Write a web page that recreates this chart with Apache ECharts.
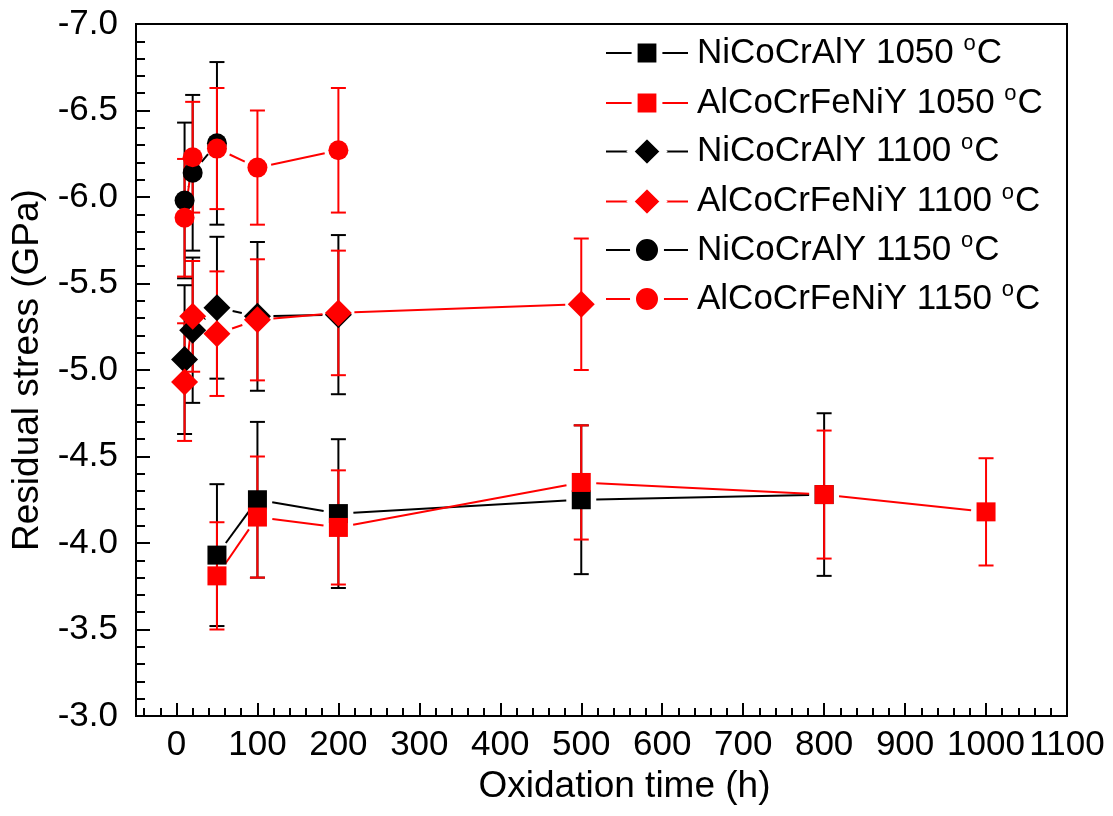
<!DOCTYPE html>
<html>
<head>
<meta charset="utf-8">
<script src="https://cdn.jsdelivr.net/npm/echarts@6/dist/echarts.min.js"></script>
<style>
html,body{margin:0;padding:0;background:#ffffff;}
#chart{width:1113px;height:816px;}
</style>
</head>
<body>
<div id="chart"></div>
<script>
// ---------------- data ----------------
const xTickLabels = [0,100,200,300,400,500,600,700,800,900,1000,1100];
const xMinorTicks = [-40,-20,20,40,60,80,120,140,160,180,220,240,260,280,320,340,360,380,420,440,460,480,520,540,560,580,620,640,660,680,720,740,760,780,820,840,860,880,920,940,960,980,1020,1040,1060,1080];

const nameNi1050 = 'NiCoCrAlY 1050 °C';
const tNi1050 = [50,100,200,500,800];
const vNi1050 = [-3.93,-4.25,-4.17,-4.25,-4.28];
const eNi1050 = [0.41,0.45,0.43,0.43,0.47];

const nameAl1050 = 'AlCoCrFeNiY 1050 °C';
const tAl1050 = [50,100,200,500,800,1000];
const vAl1050 = [-3.81,-4.15,-4.09,-4.35,-4.28,-4.18];
const eAl1050 = [0.31,0.35,0.33,0.33,0.37,0.31];

const nameNi1100 = 'NiCoCrAlY 1100 °C';
const tNi1100 = [10,20,50,100,200];
const vNi1100 = [-5.06,-5.23,-5.36,-5.31,-5.32];
const eNi1100 = [0.43,0.42,0.41,0.43,0.46];

const nameAl1100 = 'AlCoCrFeNiY 1100 °C';
const tAl1100 = [10,20,50,100,200,500];
const vAl1100 = [-4.93,-5.31,-5.21,-5.29,-5.33,-5.38];
const eAl1100 = [0.34,0.32,0.36,0.35,0.36,0.38];

const nameNi1150 = 'NiCoCrAlY 1150 °C';
const tNi1150 = [10,20,50];
const vNi1150 = [-5.98,-6.14,-6.31];
const eNi1150 = [0.45,0.45,0.47];

const nameAl1150 = 'AlCoCrFeNiY 1150 °C';
const tAl1150 = [10,20,50,100,200];
const vAl1150 = [-5.88,-6.23,-6.28,-6.17,-6.27];
const eAl1150 = [0.34,0.32,0.35,0.33,0.36];

// ---------------- styling ----------------
const BLACK = '#000000';
const RED = '#ff0000';
const FONT = 'Liberation Sans, Arial, sans-serif';
const TICK_FS = 35;
const NAME_FS = 37;
const LEG_FS = 35;

const sets = [
  {name:nameNi1050, t:tNi1050, v:vNi1050, e:eNi1050, color:BLACK, symbol:'rect',    size:19, gap:15, legH:31},
  {name:nameAl1050, t:tAl1050, v:vAl1050, e:eAl1050, color:RED,   symbol:'rect',    size:19, gap:15, legH:31},
  {name:nameNi1100, t:tNi1100, v:vNi1100, e:eNi1100, color:BLACK, symbol:'diamond', size:27, gap:16, legH:41},
  {name:nameAl1100, t:tAl1100, v:vAl1100, e:eAl1100, color:RED,   symbol:'diamond', size:27, gap:16, legH:41},
  {name:nameNi1150, t:tNi1150, v:vNi1150, e:eNi1150, color:BLACK, symbol:'circle',  size:20, gap:14, legH:35},
  {name:nameAl1150, t:tAl1150, v:vAl1150, e:eAl1150, color:RED,   symbol:'circle',  size:20, gap:14, legH:35}
];

function errRender(color) {
  return function (params, api) {
    const x = api.value(0), y = api.value(1), e = api.value(2);
    const p1 = api.coord([x, y - e]);
    const p2 = api.coord([x, y + e]);
    const hw = 7.5;
    const st = {stroke: color, lineWidth: 2};
    return {
      type: 'group',
      children: [
        {type:'line', shape:{x1:p1[0], y1:p1[1], x2:p2[0], y2:p2[1]}, style:st},
        {type:'line', shape:{x1:p1[0]-hw, y1:p1[1], x2:p1[0]+hw, y2:p1[1]}, style:st},
        {type:'line', shape:{x1:p2[0]-hw, y1:p2[1], x2:p2[0]+hw, y2:p2[1]}, style:st}
      ]
    };
  };
}

// connecting segment between two consecutive points, trimmed near the markers (Origin-style gap)
function segRender(color, gap) {
  return function (params, api) {
    const a = api.coord([api.value(0), api.value(1)]);
    const b = api.coord([api.value(2), api.value(3)]);
    const dx = b[0] - a[0], dy = b[1] - a[1];
    const len = Math.sqrt(dx * dx + dy * dy);
    if (len <= 2 * gap) return null;
    const ux = dx / len, uy = dy / len;
    return {
      type: 'line',
      shape: {x1: a[0] + ux * gap, y1: a[1] + uy * gap, x2: b[0] - ux * gap, y2: b[1] - uy * gap},
      style: {stroke: color, lineWidth: 2}
    };
  };
}

const series = [];
sets.forEach(function (s) {
  series.push({
    type: 'custom',
    name: s.name + ' error',
    xAxisIndex: 0, yAxisIndex: 0,
    renderItem: errRender(s.color),
    encode: {x: 0, y: 1},
    data: s.t.map(function (t, i) { return [t, s.v[i], s.e[i]]; }),
    silent: true
  });
  series.push({
    type: 'custom',
    name: s.name + ' line',
    xAxisIndex: 0, yAxisIndex: 0,
    renderItem: segRender(s.color, s.gap),
    encode: {x: [0, 2], y: [1, 3]},
    data: s.t.slice(0, -1).map(function (t, i) { return [t, s.v[i], s.t[i + 1], s.v[i + 1]]; }),
    silent: true
  });
  series.push({
    type: 'line',
    name: s.name,
    xAxisIndex: 0, yAxisIndex: 0,
    data: s.t.map(function (t, i) { return [t, s.v[i]]; }),
    symbol: s.symbol,
    symbolSize: s.size,
    showAllSymbol: true,
    itemStyle: {color: s.color},
    lineStyle: {color: s.color, width: 0, opacity: 0},
    emphasis: {disabled: true}
  });
});

const legendCenters = [53, 103, 152, 202, 250, 299];
const LEG_TEXT_H = 40;
const legends = sets.map(function (s, i) {
  const h = Math.max(s.legH, LEG_TEXT_H);
  return {
    data: [s.name],
    left: 605,
    top: legendCenters[i] - h / 2,
    padding: 0,
    itemWidth: 82,
    itemHeight: s.legH,
    selectedMode: false,
    itemStyle: {borderColor: '#ffffff', borderWidth: 6},
    lineStyle: {color: s.color, width: 2, opacity: 1},
    formatter: function (name) { return '{t|' + name.replace(' °C', ' ') + '}{s|o}{t|C}'; },
    textStyle: {
      fontSize: LEG_FS, fontFamily: FONT, color: '#000', lineHeight: LEG_TEXT_H, padding: [0,0,0,4],
      rich: {
        t: {fontSize: LEG_FS, fontFamily: FONT, color: '#000', lineHeight: LEG_TEXT_H},
        s: {fontSize: 22, fontFamily: FONT, color: '#000', lineHeight: 24, verticalAlign: 'top', padding: [0,1,0,0]}
      }
    }
  };
});

const chart = echarts.init(document.getElementById('chart'), null, {renderer: 'canvas'});
chart.setOption({
  animation: false,
  backgroundColor: '#ffffff',
  grid: {left: 136, right: 46, top: 24, bottom: 100, show: true, borderColor: '#000', borderWidth: 2, containLabel: false},
  legend: legends,
  xAxis: [
    {
      type: 'value', min: -50, max: 1100,
      name: 'Oxidation time (h)', nameLocation: 'middle', nameGap: 36,
      nameTextStyle: {fontSize: NAME_FS, fontFamily: FONT, color: '#000', padding: [0,0,0,46]},
      axisLine: {show: true, onZero: false, lineStyle: {color: '#000', width: 2}},
      axisTick: {show: true, inside: true, length: 13, lineStyle: {color: '#000', width: 2}, customValues: xTickLabels},
      axisLabel: {show: true, fontSize: TICK_FS, fontFamily: FONT, color: '#000', margin: 12, customValues: xTickLabels,
                  formatter: function (v) { return String(v); }},
      splitLine: {show: false}
    },
    {
      type: 'value', min: -50, max: 1100, position: 'bottom',
      axisLine: {show: false},
      axisTick: {show: true, inside: true, length: 8, lineStyle: {color: '#000', width: 2}, customValues: xMinorTicks},
      axisLabel: {show: false},
      splitLine: {show: false}
    }
  ],
  yAxis: {
    type: 'value', min: -7, max: -3, interval: 0.5, inverse: true,
    name: 'Residual stress (GPa)', nameLocation: 'middle', nameGap: 84,
    nameTextStyle: {fontSize: NAME_FS, fontFamily: FONT, color: '#000'},
    axisLine: {show: true, onZero: false, lineStyle: {color: '#000', width: 2}},
    axisTick: {show: true, inside: true, length: 14, lineStyle: {color: '#000', width: 2}},
    minorTick: {show: true, splitNumber: 5, length: 9, lineStyle: {color: '#000', width: 2}},
    axisLabel: {fontSize: TICK_FS, fontFamily: FONT, color: '#000', margin: 18, formatter: function (v) { return v.toFixed(1); }},
    splitLine: {show: false},
    minorSplitLine: {show: false}
  },
  series: series
});
</script>
</body>
</html>
